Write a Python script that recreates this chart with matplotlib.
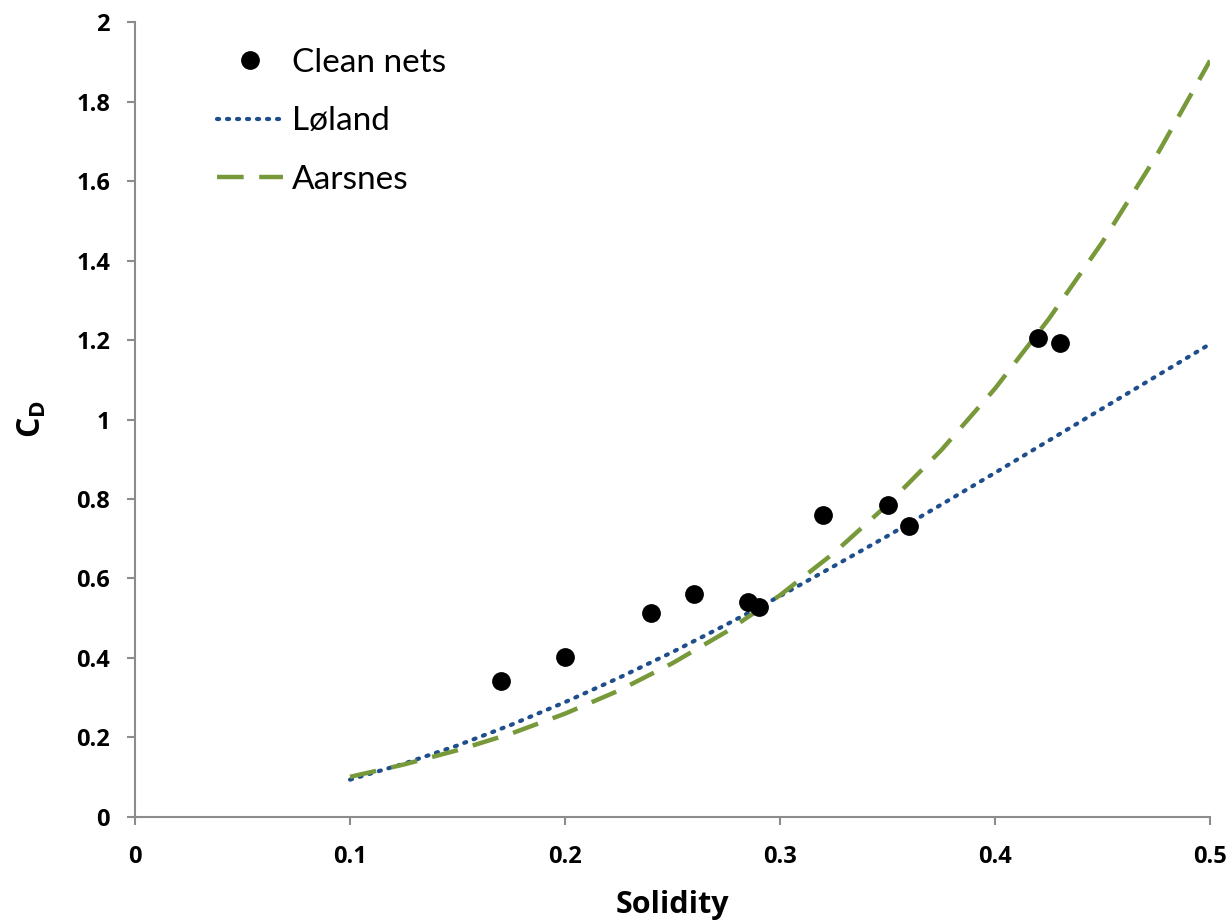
import matplotlib.pyplot as plt

# measured drag coefficients, clean nets
solidity = [0.17, 0.20, 0.24, 0.26, 0.285, 0.29, 0.32, 0.35, 0.36, 0.42, 0.43]
cd_clean = [0.342, 0.403, 0.513, 0.561, 0.541, 0.529, 0.760, 0.785, 0.731, 1.206, 1.192]

# model curves, values
sn_curve = [0.100, 0.125, 0.150, 0.175, 0.200, 0.225, 0.250, 0.275, 0.300,
            0.325, 0.350, 0.375, 0.400, 0.425, 0.450, 0.475, 0.500]
cd_loland = [0.094, 0.134, 0.180, 0.232, 0.289, 0.350, 0.415, 0.484, 0.556,
             0.631, 0.707, 0.786, 0.866, 0.947, 1.028, 1.109, 1.190]
cd_aarsnes = [0.101, 0.132, 0.168, 0.210, 0.260, 0.318, 0.387, 0.466, 0.558,
              0.664, 0.786, 0.923, 1.078, 1.253, 1.447, 1.663, 1.903]

x_ticks = [0, 0.1, 0.2, 0.3, 0.4, 0.5]
x_labels = ['0', '0.1', '0.2', '0.3', '0.4', '0.5']
y_ticks = [0, 0.2, 0.4, 0.6, 0.8, 1.0, 1.2, 1.4, 1.6, 1.8, 2.0]
y_labels = ['0', '0.2', '0.4', '0.6', '0.8', '1', '1.2', '1.4', '1.6', '1.8', '2']

plt.rcParams['font.family'] = ['Lato', 'DejaVu Sans']
bold_font = ['Open Sans', 'DejaVu Sans']

fig = plt.figure(figsize=(12.31, 9.22), dpi=100)
ax = fig.add_axes([0.1097, 0.1139, 0.8733, 0.8622])

ax.plot(solidity, cd_clean, 'o', color='black', markersize=12.5, label='Clean nets', zorder=3)
ax.plot(sn_curve, cd_loland, color='#1F4E8C', linewidth=3, linestyle=(0, (0.5, 1.9)),
        dash_capstyle='round', label='Løland')
ax.plot(sn_curve, cd_aarsnes, color='#77993A', linewidth=3.2, linestyle=(0, (6, 3.5)),
        label='Aarsnes')

ax.set_xlim(0, 0.5)
ax.set_ylim(0, 2)
ax.set_xticks(x_ticks)
ax.set_xticklabels(x_labels)
ax.set_yticks(y_ticks)
ax.set_yticklabels(y_labels)

for side in ['top', 'right']:
    ax.spines[side].set_visible(False)
for side in ['left', 'bottom']:
    ax.spines[side].set_color('#8C8C8C')
    ax.spines[side].set_linewidth(1.5)
ax.tick_params(axis='both', colors='#8C8C8C', width=1.5, length=6,
               labelcolor='black')
ax.tick_params(axis='x', pad=14)
ax.tick_params(axis='y', pad=12)
for lbl in ax.get_xticklabels() + ax.get_yticklabels():
    lbl.set_family(bold_font)
    lbl.set_fontweight('bold')
    lbl.set_fontsize(17)

ax.set_xlabel('Solidity', fontsize=22, fontweight='bold', family=bold_font, labelpad=15)
ax.set_ylabel('C$_\\mathregular{D}$', fontsize=23, fontweight='bold', family=bold_font,
              labelpad=20)

ax.legend(loc='upper left', bbox_to_anchor=(0.048, 1.005), frameon=False, fontsize=24,
          handlelength=2.0, handletextpad=0.27, labelspacing=0.85)

plt.savefig('out.png', dpi=100)
